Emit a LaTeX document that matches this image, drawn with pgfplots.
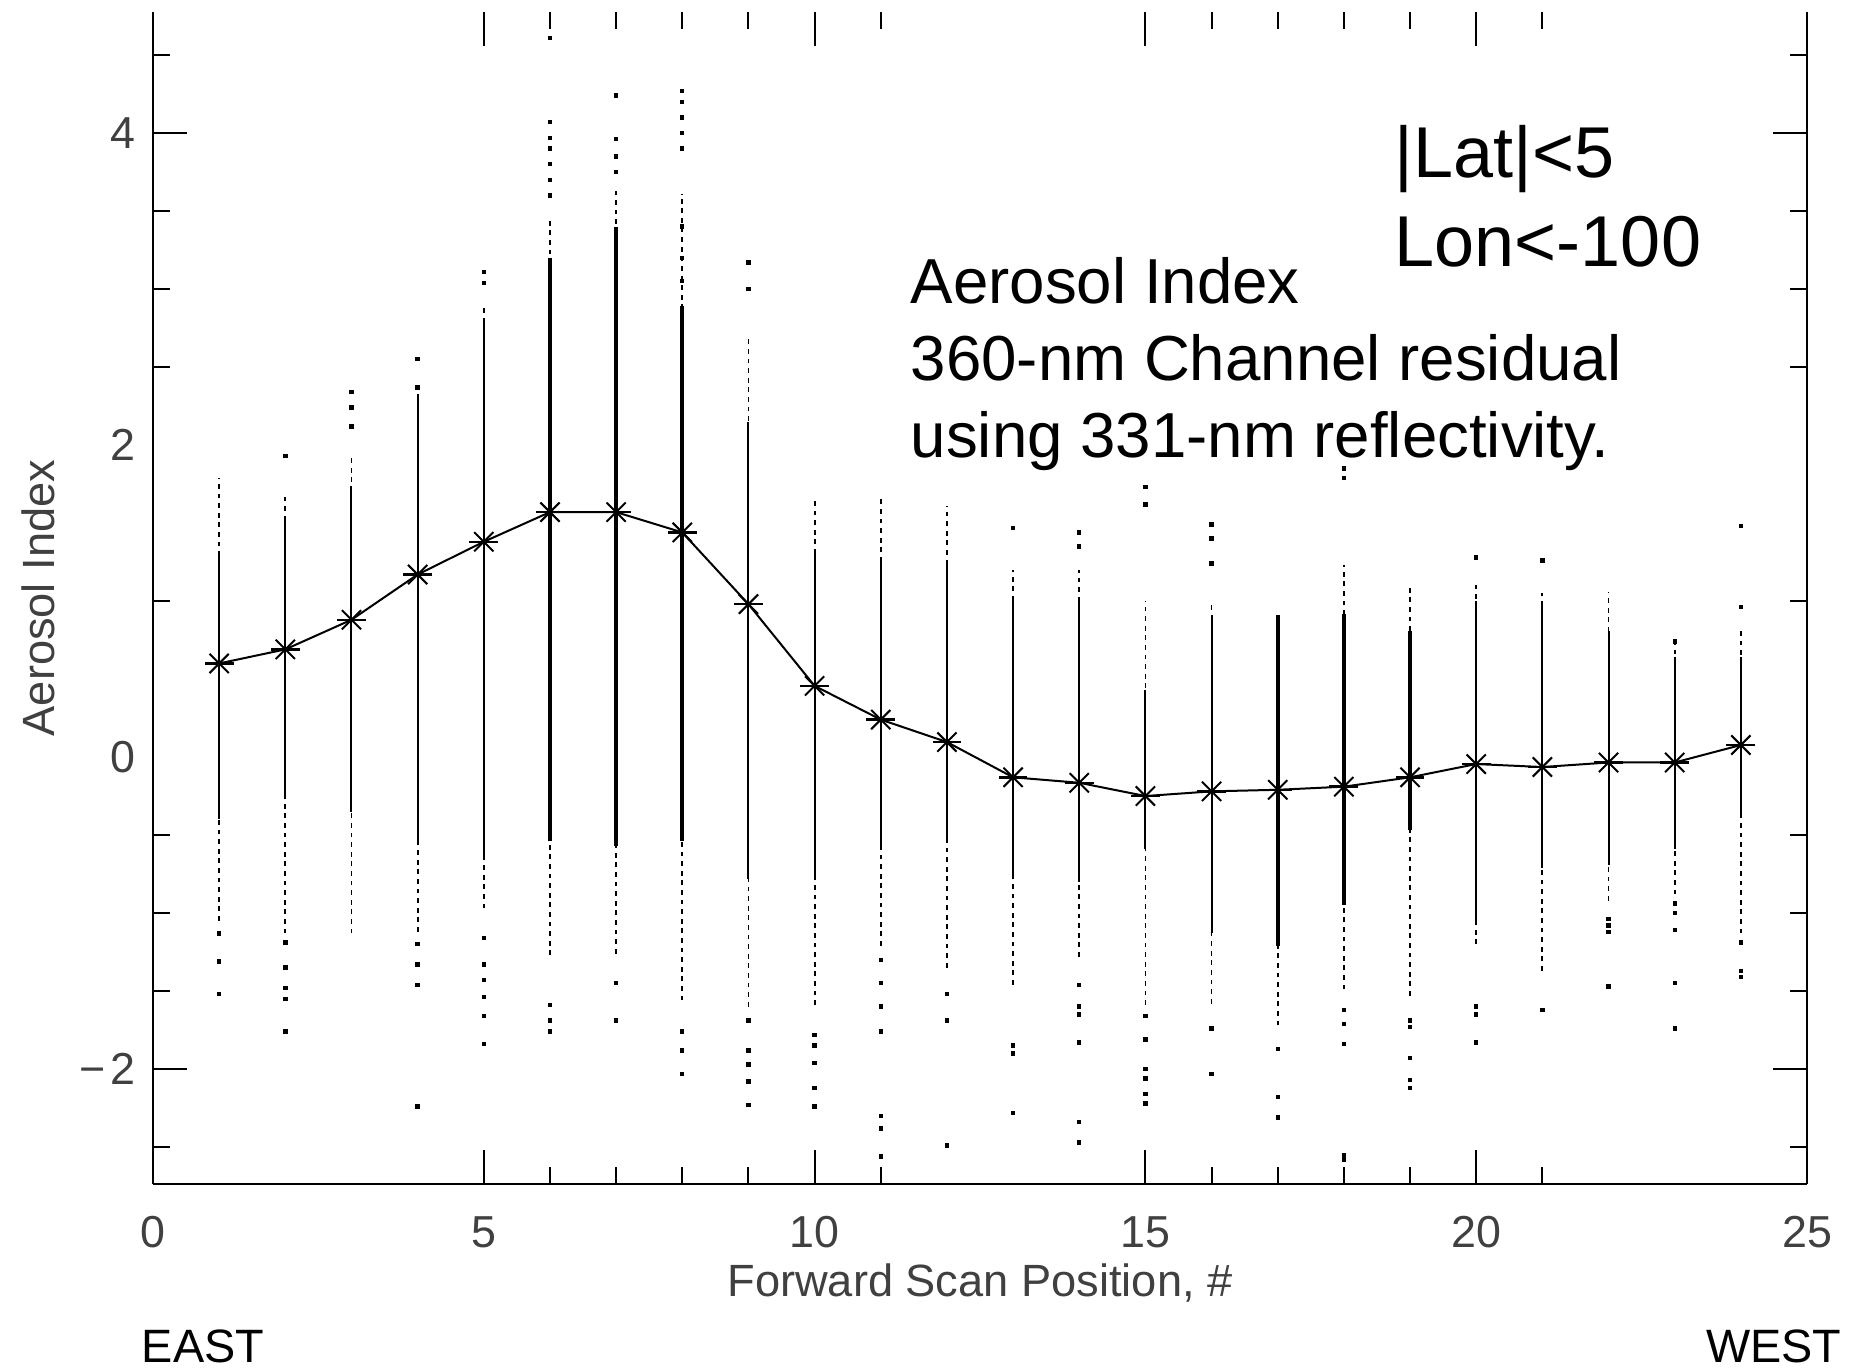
\documentclass[border=0pt]{standalone}
\usepackage{pgfplots}
\pgfplotsset{compat=1.18}
\usepackage{fontspec}
\setmainfont{Liberation Sans}

\begin{document}
\begin{tikzpicture}
\useasboundingbox (-38.25pt,-46pt) rectangle (424pt,296pt);
\pgfplotsset{
  common/.style={
    at={(0,0)}, anchor=south west,
    scale only axis, width=413.5pt, height=293pt,
    xmin=0, xmax=25, ymin=-2.737, ymax=4.776,
    tick align=inside,
    major tick length=8.4pt, minor tick length=4.25pt,
    every tick/.style={black, line width=0.5pt},
    axis line style={-, black, line width=0.6pt},
    xtick={0,5,10,15,20,25},
    minor xtick={6,7,8,9,11,16,17,18,19,21},
  }
}
\pgfplotstableread{
x y
1 0.60
2 0.69
3 0.88
4 1.17
5 1.38
6 1.57
7 1.57
8 1.44
9 0.98
10 0.456
11 0.24
12 0.096
13 -0.13
14 -0.165
15 -0.25
16 -0.22
17 -0.21
18 -0.19
19 -0.13
20 -0.045
21 -0.064
22 -0.035
23 -0.035
24 0.077
}\meantable
\begin{axis}[common,
  axis x line*=bottom, axis y line*=box,
  ytick={-2,4}, yticklabels={−\kern1.2pt 2,4},
  extra y ticks={0,2}, extra y tick labels={0,2},
  extra y tick style={major tick length=0pt},
  minor ytick={-2.5,-1.5,-1,-0.5,1,2.5,3,3.5,4.5},
  xticklabels={0,5,10,15,20,25},
  /pgf/number format/assume math mode=true,
  ticklabel style={font=\fontsize{11.2}{12}\selectfont, text=black!75, inner sep=0pt},
  xticklabel style={anchor=center, yshift=-12pt},
  yticklabel style={anchor=east, xshift=-4.25pt},
  xlabel={Forward Scan Position, \#},
  ylabel={Aerosol Index},
  every axis x label/.style={at={(axis description cs:0.5,-0.0964)}, anchor=base,
    font=\fontsize{11.3}{13}\selectfont, text=black!75, inner sep=0pt},
  every axis y label/.style={at={(axis description cs:-0.0695,0.5)}, rotate=90, anchor=center,
    font=\fontsize{11.3}{13}\selectfont, text=black!75, inner sep=0pt},
  unbounded coords=jump,
]
% semi-dense parts of the scatter columns
\addplot[black, line width=0.45pt, dash pattern=on 1.2pt off 1.2pt] coordinates {
(1,-1.05) (1,1.79) (1,nan)
(2,-1.13) (2,1.68) (2,nan)
(3,-1.13) (3,1.94) (3,nan)
(4,-1.12) (4,2.33) (4,nan)
(5,-0.97) (5,2.90) (5,nan)
(6,-1.27) (6,3.45) (6,nan)
(7,-1.26) (7,3.63) (7,nan)
(8,-1.56) (8,3.61) (8,nan)
(9,-1.60) (9,2.70) (9,nan)
(10,-1.59) (10,1.67) (10,nan)
(11,-1.21) (11,1.66) (11,nan)
(12,-1.35) (12,1.61) (12,nan)
(13,-1.46) (13,1.20) (13,nan)
(14,-1.28) (14,1.20) (14,nan)
(15,-1.59) (15,1.00) (15,nan)
(16,-1.58) (16,1.00) (16,nan)
(17,-1.72) (17,0.91) (17,nan)
(18,-1.49) (18,1.23) (18,nan)
(19,-1.53) (19,1.09) (19,nan)
(20,-1.20) (20,1.10) (20,nan)
(21,-1.37) (21,1.05) (21,nan)
(22,-0.92) (22,1.06) (22,nan)
(23,-0.88) (23,0.74) (23,nan)
(24,-1.13) (24,0.82)
};
% dense (solid) parts, normal columns
\addplot[black, line width=0.5pt] coordinates {
(1,-0.40) (1,1.32) (1,nan)
(2,-0.26) (2,1.51) (2,nan)
(3,-0.35) (3,1.74) (3,nan)
(4,-0.54) (4,2.33) (4,nan)
(5,-0.66) (5,2.78) (5,nan)
(9,-0.78) (9,2.15) (9,nan)
(10,-0.78) (10,1.33) (10,nan)
(11,-0.59) (11,1.27) (11,nan)
(12,-0.55) (12,1.25) (12,nan)
(13,-0.75) (13,1.00) (13,nan)
(14,-0.80) (14,1.00) (14,nan)
(15,-0.59) (15,0.43) (15,nan)
(16,-1.13) (16,0.91) (16,nan)
(20,-1.06) (20,1.00) (20,nan)
(21,-0.71) (21,1.00) (21,nan)
(22,-0.69) (22,0.81) (22,nan)
(23,-0.59) (23,0.64) (23,nan)
(24,-0.38) (24,0.64)
};
% dense (solid) parts, thick columns
\addplot[black, line width=1.0pt] coordinates {
(6,-0.54) (6,3.20) (6,nan)
(7,-0.57) (7,3.40) (7,nan)
(8,-0.54) (8,2.89) (8,nan)
(17,-1.21) (17,0.91) (17,nan)
(18,-0.95) (18,0.92) (18,nan)
(19,-0.47) (19,0.81)
};
% isolated points
\addplot[only marks, mark=square*, mark size=0.35pt, black] table {
x y
1 -1.13
1 -1.31
1 -1.52
2 1.93
2 -1.19
2 -1.35
2 -1.48
2 -1.55
2 -1.76
3 2.34
3 2.24
3 2.12
4 2.55
4 2.37
4 -1.20
4 -1.33
4 -1.46
4 -2.24
5 3.11
5 3.04
5 -1.16
5 -1.33
5 -1.43
5 -1.54
5 -1.66
5 -1.84
6 4.61
6 4.07
6 3.97
6 3.90
6 3.80
6 3.70
6 3.60
6 -1.59
6 -1.69
6 -1.76
7 4.24
7 3.96
7 3.85
7 3.75
7 -1.45
7 -1.69
8 4.27
8 4.20
8 4.10
8 4.00
8 3.90
8 3.40
8 3.20
8 3.05
8 -1.76
8 -1.88
8 -2.03
9 3.17
9 3.00
9 -1.69
9 -1.88
9 -1.97
9 -2.08
9 -2.23
10 -1.78
10 -1.85
10 -1.96
10 -2.12
10 -2.24
11 -1.30
11 -1.45
11 -1.60
11 -1.76
11 -2.30
11 -2.38
11 -2.56
12 -1.52
12 -1.69
12 -2.49
13 1.47
13 -1.85
13 -1.90
13 -2.28
14 1.44
14 1.35
14 -1.46
14 -1.60
14 -1.65
14 -1.83
14 -2.34
14 -2.47
15 1.73
15 1.62
15 -1.66
15 -1.81
15 -2.00
15 -2.06
15 -2.16
15 -2.22
16 1.49
16 1.40
16 1.24
16 -1.74
16 -2.03
17 -1.87
17 -2.18
17 -2.31
18 1.85
18 1.79
18 -1.62
18 -1.71
18 -1.84
18 -2.55
18 -2.58
19 -1.69
19 -1.73
19 -1.93
19 -2.07
19 -2.12
20 1.28
20 -1.60
20 -1.65
20 -1.83
21 1.26
21 -1.62
22 -1.04
22 -1.08
22 -1.12
22 -1.47
23 0.74
23 -0.94
23 -1.00
23 -1.11
23 -1.45
23 -1.74
24 1.48
24 0.96
24 -1.19
24 -1.37
24 -1.41
};
% mean per scan position: line with asterisk (x + plus) marks
\addplot[black, line width=0.5pt, mark=x, mark size=3.4pt,
  mark options={solid, line width=0.5pt}] table {\meantable};
\addplot[only marks, black, mark=-, mark size=3.6pt,
  mark options={solid, line width=0.6pt}] table {\meantable};
\end{axis}
% top ticks (the top frame line itself is not visible in the reference)
\begin{axis}[common,
  axis x line*=top, axis y line=none,
  x axis line style={draw=none},
  xticklabels={}, ytick=\empty,
]
\end{axis}
\node[anchor=base west, inner sep=0pt, font=\fontsize{15.9}{19}\selectfont] at (189.25pt,220pt) {Aerosol Index};
\node[anchor=base west, inner sep=0pt, font=\fontsize{15.9}{19}\selectfont] at (189.25pt,200.75pt) {360-nm Channel residual};
\node[anchor=base west, inner sep=0pt, font=\fontsize{15.9}{19}\selectfont] at (189.25pt,181.5pt) {using 331-nm reflectivity.};
\node[anchor=base west, inner sep=0pt, font=\fontsize{18}{22}\selectfont] at (310.25pt,251.5pt) {|Lat|<5};
\node[anchor=base west, inner sep=0pt, font=\fontsize{18}{22}\selectfont] at (310.25pt,229.25pt) {Lon<-100};
\node[anchor=base west, inner sep=0pt, font=\fontsize{11.7}{14}\selectfont] at (-3pt,-44.5pt) {EAST};
\node[anchor=base east, inner sep=0pt, font=\fontsize{11.7}{14}\selectfont] at (422.25pt,-44.5pt) {WEST};
\end{tikzpicture}
\end{document}
